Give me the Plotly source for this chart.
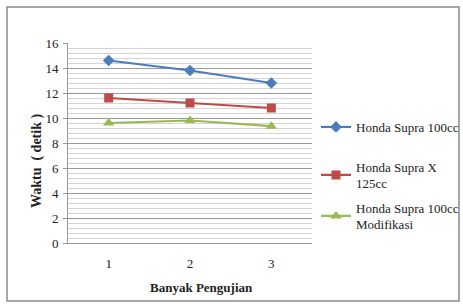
import plotly.graph_objects as go

categories = ["1", "2", "3"]
supra_100 = [14.6, 13.8, 12.8]
supra_x_125 = [11.6, 11.2, 10.8]
supra_mod = [9.6, 9.8, 9.35]
names = ["Honda Supra 100cc", "Honda Supra X<br>125cc", "Honda Supra 100cc<br>Modifikasi"]
y_ticks = [0, 2, 4, 6, 8, 10, 12, 14, 16]

W, H = 463, 304
PL, PR, PT, PB = 68, 312, 43, 243  # plot area in pixels
L, T, R, B = PL, PT, W - PR, H - PB
pw, ph = PR - PL, PB - PT

def px_x(x):
    return (x - PL) / pw

def px_y(y):
    return (PB - y) / ph

font = "Liberation Serif"

fig = go.Figure()
series = [
    (supra_100, "#4A7EBB", "diamond", 9, "legend"),
    (supra_x_125, "#BE4B48", "square", 9, "legend2"),
    (supra_mod, "#98B954", "triangle-up", 10, "legend3"),
]
for (vals, color, sym, sz, lg), name in zip(series, names):
    fig.add_trace(go.Scatter(
        x=categories, y=vals, name=name, mode="lines+markers",
        line=dict(color=color, width=2.2),
        marker=dict(symbol=sym, size=sz, color=color),
        legend=lg,
    ))

leg_common = dict(xanchor="left", yanchor="middle", bgcolor="rgba(0,0,0,0)",
                  font=dict(family=font, size=13, color="#222"), itemwidth=30)
fig.update_layout(
    width=W, height=H,
    margin=dict(l=L, r=R, t=T, b=B, autoexpand=False),
    paper_bgcolor="white", plot_bgcolor="white",
    font=dict(family=font, size=13, color="#222"),
    showlegend=True,
    legend=dict(x=px_x(316), y=px_y(127), **leg_common),
    legend2=dict(x=px_x(316), y=px_y(175), **leg_common),
    legend3=dict(x=px_x(316), y=px_y(216), **leg_common),
    xaxis=dict(
        type="category", range=[-0.5, 2.5], automargin=False,
        showline=True, linecolor="#999", linewidth=1,
        showgrid=False, ticks="", ticklen=0, ticklabelstandoff=8,
        tickfont=dict(family=font, size=13, color="#222"),
        zeroline=False,
    ),
    yaxis=dict(
        range=[0, 16], tickvals=y_ticks, automargin=False,
        showline=True, linecolor="#999", linewidth=1,
        ticks="outside", ticklen=4, tickcolor="#999", ticklabelstandoff=2,
        showgrid=True, gridcolor="#9a9a9a", gridwidth=1,
        minor=dict(dtick=0.4, showgrid=True, gridcolor="#d4d4d4", gridwidth=1, ticks=""),
        tickfont=dict(family=font, size=13, color="#222"),
        zeroline=False,
    ),
    annotations=[
        dict(text="<b>Banyak Pengujian</b>", xref="paper", yref="paper",
             x=px_x(201), y=px_y(287), xanchor="center", yanchor="middle",
             showarrow=False, font=dict(family=font, size=13, color="#222")),
        dict(text="<b>Waktu  ( detik )</b>", xref="paper", yref="paper",
             x=px_x(37), y=px_y(161), xanchor="center", yanchor="middle",
             showarrow=False, textangle=-90,
             font=dict(family=font, size=14, color="#222")),
    ],
    shapes=[
        dict(type="rect", xref="paper", yref="paper",
             x0=px_x(7), x1=px_x(459), y0=px_y(301), y1=px_y(7),
             line=dict(color="#8a8a8a", width=1.5), layer="below"),
    ],
)

fig.write_html(
    "out.html",
    config={"displayModeBar": False},
    post_script="document.body.style.margin='0';document.body.style.overflow='hidden';",
)
